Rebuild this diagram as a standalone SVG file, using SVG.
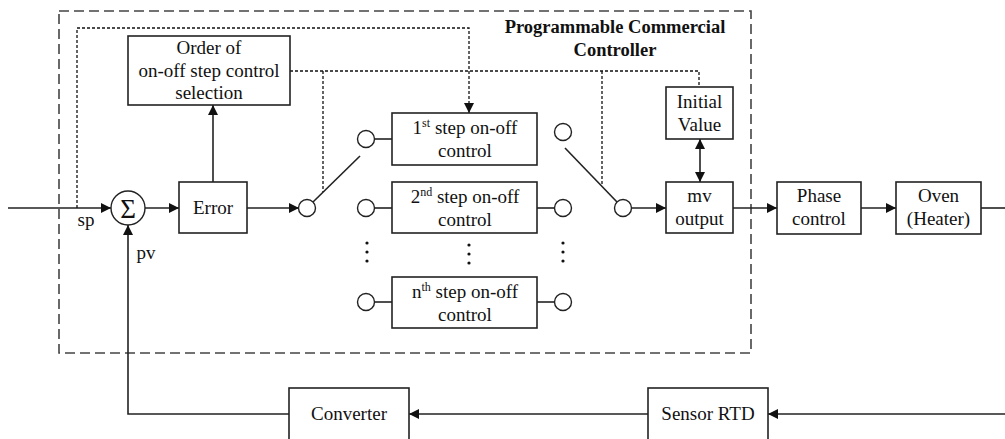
<svg xmlns="http://www.w3.org/2000/svg" width="1005" height="439" viewBox="0 0 1005 439">
  <style>
    .box { fill: #fff; stroke: #222; stroke-width: 1.6; }
    .wire { fill: none; stroke: #222; stroke-width: 1.6; }
    .dot { fill: none; stroke: #111; stroke-width: 1.3; stroke-dasharray: 3 2; }
    .frame { fill: none; stroke: #444; stroke-width: 1.6; stroke-dasharray: 10 5; }
    .contact { fill: #fff; stroke: #222; stroke-width: 1.4; }
    text { font-family: "Liberation Serif", "Times New Roman", serif; font-size: 19px; fill: #111; text-anchor: middle; }
    .title { font-weight: bold; font-size: 18.5px; }
    .sup { font-size: 12px; }
  </style>
  <defs>
    <marker id="arrow" viewBox="0 0 10 10" refX="10" refY="5" markerWidth="10" markerHeight="10" markerUnits="userSpaceOnUse" orient="auto-start-reverse">
      <path d="M0,0 L10,5 L0,10 z" fill="#111"/>
    </marker>
  </defs>

  <!-- controller enclosure -->
  <rect class="frame" x="59" y="11" width="692" height="342"/>
  <text class="title" x="615" y="33">Programmable Commercial</text>
  <text class="title" x="615" y="56">Controller</text>

  <!-- connectors -->
  <g id="connectors">
    <!-- forward path -->
    <line class="wire" x1="8" y1="208" x2="111" y2="208" marker-end="url(#arrow)"/>
    <line class="wire" x1="145" y1="208" x2="179" y2="208" marker-end="url(#arrow)"/>
    <line class="wire" x1="247" y1="208" x2="299" y2="208" marker-end="url(#arrow)"/>
    <line class="wire" x1="213" y1="182" x2="213" y2="105" marker-end="url(#arrow)"/>
    <!-- input selector blade -->
    <line class="wire" x1="313" y1="202" x2="360" y2="156"/>
    <!-- step controller leads -->
    <line class="wire" x1="374.5" y1="139" x2="392" y2="139"/>
    <line class="wire" x1="374.5" y1="208" x2="392" y2="208"/>
    <line class="wire" x1="537" y1="208" x2="554.5" y2="208"/>
    <line class="wire" x1="374.5" y1="302" x2="392" y2="302"/>
    <line class="wire" x1="537" y1="302" x2="554.5" y2="302"/>
    <!-- output selector blade -->
    <line class="wire" x1="565" y1="148" x2="617" y2="202"/>
    <line class="wire" x1="631.5" y1="208" x2="666" y2="208" marker-end="url(#arrow)"/>
    <line class="wire" x1="700" y1="139" x2="700" y2="182" marker-start="url(#arrow)" marker-end="url(#arrow)"/>
    <line class="wire" x1="733" y1="208" x2="777" y2="208" marker-end="url(#arrow)"/>
    <line class="wire" x1="861" y1="208" x2="896" y2="208" marker-end="url(#arrow)"/>
    <line class="wire" x1="981" y1="208" x2="1005" y2="208"/>
    <!-- feedback path -->
    <line class="wire" x1="1005" y1="414" x2="768" y2="414" marker-end="url(#arrow)"/>
    <line class="wire" x1="648" y1="414" x2="409" y2="414" marker-end="url(#arrow)"/>
    <polyline class="wire" points="289,414 128,414 128,225" marker-end="url(#arrow)"/>
    <!-- dotted control signals -->
    <polyline class="dot" points="77,208 77,28 469,28 469,113" marker-end="url(#arrow)"/>
    <polyline class="dot" points="290,71 699,71 699,87"/>
    <line class="dot" x1="323" y1="71" x2="323" y2="192"/>
    <line class="dot" x1="602" y1="71" x2="602" y2="186"/>
  </g>

  <!-- summing junction -->
  <g id="sum">
    <circle class="contact" cx="128" cy="208" r="17"/>
    <text x="128" y="217.5" style="font-size:27px">Σ</text>
    <text x="86" y="226">sp</text>
    <text x="146" y="259">pv</text>
  </g>

  <g id="error">
    <rect class="box" x="179" y="182" width="68" height="51"/>
    <text x="213" y="214">Error</text>
  </g>

  <g id="order-selection">
    <rect class="box" x="128" y="36" width="162" height="69"/>
    <text x="209" y="54">Order of</text>
    <text x="209" y="77">on-off step control</text>
    <text x="209" y="99">selection</text>
  </g>

  <!-- selector contacts -->
  <g id="contacts">
    <circle class="contact" cx="307" cy="208" r="8.5"/>
    <circle class="contact" cx="366" cy="139" r="8.5"/>
    <circle class="contact" cx="366" cy="208" r="8.5"/>
    <circle class="contact" cx="366" cy="302" r="8.5"/>
    <circle class="contact" cx="563" cy="132" r="8.5"/>
    <circle class="contact" cx="563" cy="208" r="8.5"/>
    <circle class="contact" cx="563" cy="302" r="8.5"/>
    <circle class="contact" cx="623" cy="208" r="8.5"/>
  </g>

  <g id="step-1">
    <rect class="box" x="392" y="113" width="145" height="52"/>
    <text x="465" y="134">1<tspan class="sup" dy="-7">st</tspan><tspan dy="7"> step on-off</tspan></text>
    <text x="465" y="157">control</text>
  </g>

  <g id="step-2">
    <rect class="box" x="392" y="182" width="145" height="51"/>
    <text x="465" y="203">2<tspan class="sup" dy="-7">nd</tspan><tspan dy="7"> step on-off</tspan></text>
    <text x="465" y="226">control</text>
  </g>

  <!-- ellipsis between step 2 and step n -->
  <g id="ellipsis" fill="#111">
    <circle cx="367" cy="243" r="1.6"/>
    <circle cx="367" cy="252" r="1.6"/>
    <circle cx="367" cy="261" r="1.6"/>
    <circle cx="469" cy="245" r="1.6"/>
    <circle cx="469" cy="254" r="1.6"/>
    <circle cx="469" cy="263" r="1.6"/>
    <circle cx="563" cy="243" r="1.6"/>
    <circle cx="563" cy="252" r="1.6"/>
    <circle cx="563" cy="261" r="1.6"/>
  </g>

  <g id="step-n">
    <rect class="box" x="392" y="277" width="145" height="51"/>
    <text x="465" y="298">n<tspan class="sup" dy="-7">th</tspan><tspan dy="7"> step on-off</tspan></text>
    <text x="465" y="321">control</text>
  </g>

  <g id="initial-value">
    <rect class="box" x="666" y="87" width="67" height="52"/>
    <text x="699.5" y="108">Initial</text>
    <text x="699.5" y="131">Value</text>
  </g>

  <g id="mv-output">
    <rect class="box" x="666" y="182" width="67" height="51"/>
    <text x="699.5" y="202">mv</text>
    <text x="699.5" y="225">output</text>
  </g>

  <g id="phase-control">
    <rect class="box" x="777" y="182" width="84" height="52"/>
    <text x="819" y="202">Phase</text>
    <text x="819" y="225">control</text>
  </g>

  <g id="oven">
    <rect class="box" x="896" y="182" width="85" height="52"/>
    <text x="938.5" y="202">Oven</text>
    <text x="938.5" y="225">(Heater)</text>
  </g>

  <g id="converter">
    <rect class="box" x="289" y="388" width="120" height="60"/>
    <text x="349" y="420">Converter</text>
  </g>

  <g id="sensor-rtd">
    <rect class="box" x="648" y="388" width="120" height="60"/>
    <text x="708" y="420">Sensor RTD</text>
  </g>
</svg>
